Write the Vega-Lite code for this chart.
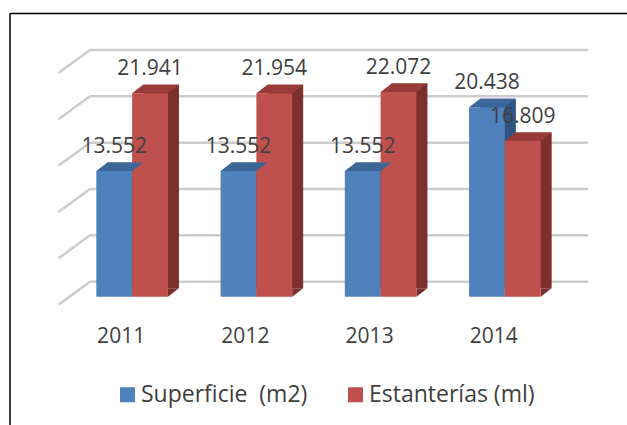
{
  "$schema": "https://vega.github.io/schema/vega-lite/v6.json",
  "width": 617,
  "height": 412,
  "autosize": {"type": "none"},
  "padding": {"left": 10, "top": 13, "right": 0, "bottom": 0},
  "background": "white",
  "config": {
    "view": {"stroke": null},
    "font": "Open Sans"
  },
  "datasets": {
    "bars": [
      {"year": "2011", "series": "Superficie\u00a0 (m2)", "v": 13552, "label": "13.552"},
      {"year": "2011", "series": "Estanterías (ml)", "v": 21941, "label": "21.941"},
      {"year": "2012", "series": "Superficie\u00a0 (m2)", "v": 13552, "label": "13.552"},
      {"year": "2012", "series": "Estanterías (ml)", "v": 21954, "label": "21.954"},
      {"year": "2013", "series": "Superficie\u00a0 (m2)", "v": 13552, "label": "13.552"},
      {"year": "2013", "series": "Estanterías (ml)", "v": 22072, "label": "22.072"},
      {"year": "2014", "series": "Superficie\u00a0 (m2)", "v": 20438, "label": "20.438"},
      {"year": "2014", "series": "Estanterías (ml)", "v": 16809, "label": "16.809"}
    ],
    "grid": [
      {"v": 0}, {"v": 5000}, {"v": 10000}, {"v": 15000}, {"v": 20000}, {"v": 25000}
    ],
    "frame": [
      {"top": 30604, "bottom": -13840}
    ]
  },
  "resolve": {"scale": {"xOffset": "independent"}},
  "layer": [
    {
      "data": {"name": "grid"},
      "mark": {"type": "rule", "color": "#cccccc", "strokeWidth": 2.5, "yOffset": -15},
      "encoding": {
        "x": {"datum": "2011", "type": "nominal", "bandPosition": -0.089,
          "scale": {"paddingInner": 0.4238, "paddingOuter": 0.695},
          "axis": {"orient": "top", "labels": false, "ticks": false, "grid": false, "title": null, "domain": true, "domainColor": "#000000", "domainWidth": 1.5}},
        "x2": {"datum": "2014", "bandPosition": 1.665},
        "y": {"field": "v", "type": "quantitative",
          "scale": {"domain": [-13840, 30604], "nice": false, "zero": false},
          "axis": null}
      }
    },
    {
      "data": {"name": "grid"},
      "mark": {"type": "rule", "color": "#cccccc", "strokeWidth": 2.5, "yOffset": 8, "y2Offset": -15},
      "encoding": {
        "x": {"datum": "2011", "type": "nominal", "bandPosition": -0.529, "axis": null},
        "x2": {"datum": "2011", "bandPosition": -0.089},
        "y": {"field": "v", "type": "quantitative", "axis": null},
        "y2": {"field": "v"}
      }
    },
    {
      "data": {"name": "frame"},
      "mark": {"type": "rule", "color": "#000000", "strokeWidth": 1.5},
      "encoding": {
        "x": {"datum": "2011", "type": "nominal", "bandPosition": -1.2062, "axis": null},
        "y": {"field": "top", "type": "quantitative", "axis": null},
        "y2": {"field": "bottom"}
      }
    },
    {
      "data": {"name": "bars"},
      "mark": {"type": "bar", "yOffset": -8.5, "y2Offset": -8.5},
      "encoding": {
        "x": {"field": "year", "type": "nominal", "axis": null},
        "xOffset": {"field": "series", "type": "nominal", "sort": ["Superficie\u00a0 (m2)", "Estanterías (ml)"], "scale": {"range": [11, 82.6]}},
        "y": {"field": "v", "type": "quantitative", "axis": null},
        "y2": {"datum": 0},
        "color": {"condition": {"test": "datum.series === 'Estanterías (ml)'", "value": "#7c2f2d"}, "value": "#2f5580"}
      }
    },
    {
      "data": {"name": "bars"},
      "mark": {"type": "point", "shape": "M0.4475,0L0.4475,-0.2125L0.7225,-0.2125Z", "size": 6400, "filled": true, "opacity": 1, "strokeWidth": 0},
      "encoding": {
        "x": {"field": "year", "type": "nominal", "axis": null},
        "xOffset": {"field": "series", "type": "nominal", "sort": ["Superficie\u00a0 (m2)", "Estanterías (ml)"]},
        "y": {"datum": 0, "type": "quantitative", "axis": null},
        "color": {"condition": {"test": "datum.series === 'Estanterías (ml)'", "value": "#7c2f2d"}, "value": "#2f5580"}
      }
    },
    {
      "data": {"name": "bars"},
      "mark": {"type": "bar"},
      "encoding": {
        "x": {"field": "year", "type": "nominal",
          "axis": {"orient": "bottom", "offset": -100, "labelPadding": 0, "ticks": false, "domain": false, "grid": false, "title": null, "labelAngle": 0, "labelFontSize": 21, "labelFont": "Open Sans", "labelColor": "#404040", "labelOffset": -11}},
        "xOffset": {"field": "series", "type": "nominal", "sort": ["Superficie\u00a0 (m2)", "Estanterías (ml)"]},
        "y": {"field": "v", "type": "quantitative", "axis": null},
        "y2": {"datum": 0},
        "color": {"field": "series", "type": "nominal",
          "scale": {"domain": ["Superficie\u00a0 (m2)", "Estanterías (ml)"], "range": ["#4f81bd", "#c0504d"]},
          "legend": {"orient": "none", "legendX": 106, "legendY": 370, "direction": "horizontal", "title": null, "symbolType": "square", "symbolSize": 225, "symbolStrokeWidth": 0, "labelFontSize": 23, "labelFont": "Open Sans", "labelColor": "#404040", "labelOffset": 2, "columnPadding": 36, "padding": 0, "labelLimit": 400}}
      }
    },
    {
      "data": {"name": "bars"},
      "mark": {"type": "point", "shape": "M-0.4475,0L0.4475,0L0.7225,-0.2125L-0.1725,-0.2125Z", "size": 6400, "filled": true, "opacity": 1, "strokeWidth": 0},
      "encoding": {
        "x": {"field": "year", "type": "nominal", "axis": null},
        "xOffset": {"field": "series", "type": "nominal", "sort": ["Superficie\u00a0 (m2)", "Estanterías (ml)"]},
        "y": {"field": "v", "type": "quantitative", "axis": null},
        "color": {"condition": {"test": "datum.series === 'Estanterías (ml)'", "value": "#983b39"}, "value": "#3c6698"}
      }
    },
    {
      "data": {"name": "bars"},
      "mark": {"type": "text", "dy": -18, "baseline": "alphabetic", "align": "center", "fontSize": 21, "font": "Open Sans", "color": "#404040"},
      "encoding": {
        "x": {"field": "year", "type": "nominal", "axis": null},
        "xOffset": {"field": "series", "type": "nominal", "sort": ["Superficie\u00a0 (m2)", "Estanterías (ml)"]},
        "y": {"field": "v", "type": "quantitative", "axis": null},
        "text": {"field": "label"}
      }
    }
  ]
}
